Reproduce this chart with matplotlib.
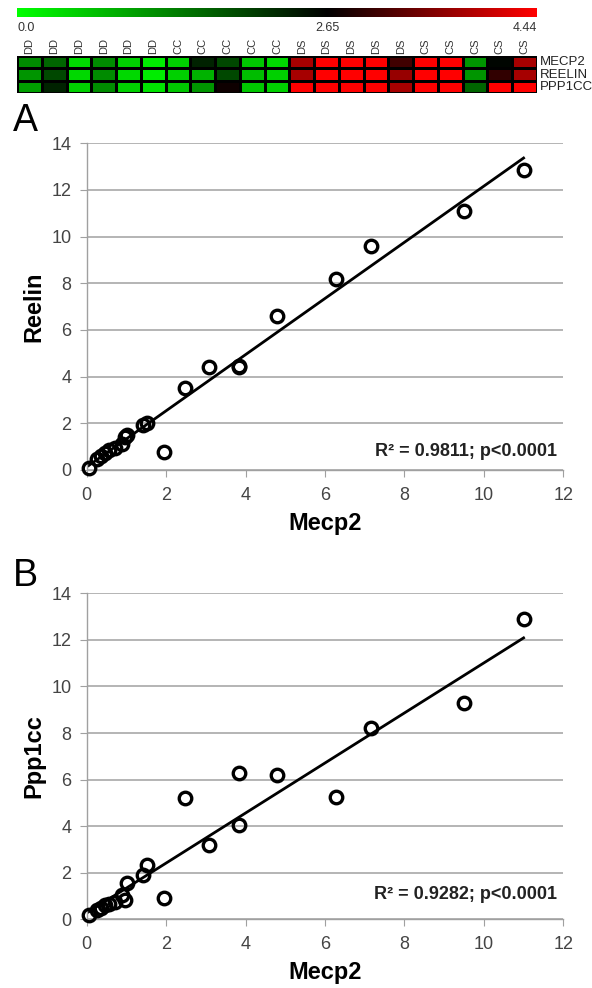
import numpy as np
import matplotlib
matplotlib.use('Agg')
import matplotlib.pyplot as plt
from matplotlib.colors import LinearSegmentedColormap

plt.rcParams['font.family'] = ['Liberation Sans', 'DejaVu Sans']

# heatmap data (scale 0 .. 4.44, green -> black -> red)
groups = ['DD'] * 6 + ['CC'] * 5 + ['DS'] * 5 + ['CS'] * 5
genes = ['MECP2', 'REELIN', 'PPP1CC']
heat_mecp2 = [1.2, 1.6, 0.4, 1.2, 0.5, 0.2, 0.5, 2.3, 1.9, 0.6, 0.4,
              3.8, 4.44, 4.44, 4.44, 3.1, 4.44, 4.44, 1.1, 2.6, 3.8]
heat_reelin = [1.1, 1.9, 0.4, 1.2, 0.4, 0.2, 0.5, 0.8, 1.9, 0.7, 0.5,
               3.8, 4.44, 4.44, 4.44, 3.7, 4.44, 4.44, 1.1, 3.0, 3.8]
heat_ppp1cc = [1.0, 2.3, 0.5, 1.2, 0.5, 0.3, 0.6, 1.1, 2.75, 0.6, 0.5,
               4.44, 4.44, 4.44, 4.44, 3.8, 4.44, 4.44, 1.6, 4.44, 4.44]
cbar_ticks = [0.0, 2.65, 4.44]
cbar_labels = ['0.0', '2.65', '4.44']

# scatter data
mecp2 = [0.05, 0.25, 0.35, 0.45, 0.55, 0.7, 0.9, 0.97, 1.02, 1.43, 1.52,
         1.95, 2.48, 3.08, 3.83, 3.83, 4.8, 6.27, 7.15, 9.5, 11.0]
reelin = [0.08, 0.45, 0.6, 0.72, 0.85, 0.95, 1.1, 1.4, 1.5, 1.93, 2.0,
          0.78, 3.5, 4.4, 4.4, 4.45, 6.6, 8.2, 9.6, 11.1, 12.85]
ppp1cc = [0.2, 0.4, 0.5, 0.6, 0.65, 0.75, 1.05, 0.85, 1.55, 1.9, 2.33,
          0.92, 5.2, 3.2, 4.05, 6.3, 6.2, 5.25, 8.2, 9.3, 12.9]
stats_a = 'R² = 0.9811; p<0.0001'
stats_b = 'R² = 0.9282; p<0.0001'

cmap = LinearSegmentedColormap.from_list('gbr', [(0, (0, 1, 0)), (2.65 / 4.44, (0, 0, 0)), (1, (1, 0, 0))])

fig = plt.figure(figsize=(5.92, 9.88), dpi=100)
W, H = 592., 988.

# colour bar strip
cax = fig.add_axes([17 / W, 1 - 17 / H, 520 / W, 9 / H])
cax.imshow(np.linspace(0, 4.44, 256)[None, :], cmap=cmap, aspect='auto',
           extent=[0, 4.44, 0, 1], vmin=0, vmax=4.44)
cax.axis('off')
for v, lab in zip(cbar_ticks, cbar_labels):
    xx = 17 + 520 * v / 4.44
    ha = 'left' if v == 0 else ('right' if v == 4.44 else 'center')
    fig.text(xx / W, 1 - 28 / H, lab, ha=ha, va='center', fontsize=9, color='#333333')

# heatmap
hax = fig.add_axes([17 / W, 1 - 93 / H, 520 / W, 37 / H])
data = np.array([heat_mecp2, heat_reelin, heat_ppp1cc])
hax.pcolormesh(data, cmap=cmap, vmin=0, vmax=4.44, edgecolors='k', linewidth=0.8)
hax.set_xlim(0, len(groups))
hax.set_ylim(3, 0)
hax.set_xticks([])
hax.set_yticks([])
for s in hax.spines.values():
    s.set_visible(False)
for i, g in enumerate(groups):
    hax.text(i + 0.5, -0.2, g, rotation=90, ha='center', va='bottom', fontsize=8, color='#333333')
for j, gname in enumerate(genes):
    hax.text(len(groups) + 0.1, j + 0.5, gname, ha='left', va='center', fontsize=9.5, color='#222222')


def scatter_panel(rect, x, y, ylab, stats, letter, letter_y, stats_y):
    ax = fig.add_axes(rect)
    x = np.array(x)
    y = np.array(y)
    ax.plot(x, y, 'o', mfc='none', mec='black', mew=2.4, ms=9, zorder=3, clip_on=False)
    k, b = np.polyfit(x, y, 1)
    xl = np.array([x.min(), x.max()])
    ax.plot(xl, k * xl + b, color='black', lw=2, zorder=2)
    ax.set_xlim(0, 12)
    ax.set_ylim(0, 14)
    ax.set_xticks(range(0, 13, 2))
    ax.set_yticks(range(0, 15, 2))
    ax.yaxis.grid(True, color='#a8a8a8', lw=1.2)
    ax.set_axisbelow(True)
    for s in ['top', 'right']:
        ax.spines[s].set_visible(False)
    for s in ['left', 'bottom']:
        ax.spines[s].set_color('#a0a0a0')
        ax.spines[s].set_linewidth(1.0)
    ax.tick_params(colors='#a0a0a0', labelcolor='#444444', labelsize=13, length=5)
    ax.tick_params(axis='x', pad=7)
    ax.tick_params(axis='y', pad=6)
    ax.set_xlabel('Mecp2', fontsize=17, fontweight='bold', labelpad=6)
    ax.set_ylabel(ylab, fontsize=17, fontweight='bold', labelpad=4)
    ax.text(11.85, stats_y, stats, ha='right', va='center', fontsize=13, fontweight='bold', color='#222222')
    fig.text(13 / W, 1 - letter_y / H, letter, fontsize=27, ha='left', va='center')
    return ax


scatter_panel([86.7 / W, 1 - 470 / H, 476.6 / W, 326.7 / H], mecp2, reelin, 'Reelin', stats_a, 'A', 121, 0.8)
scatter_panel([86.7 / W, 1 - 919.3 / H, 476.6 / W, 326 / H], mecp2, ppp1cc, 'Ppp1cc', stats_b, 'B', 576, 1.05)

fig.savefig('out.png', dpi=100)
